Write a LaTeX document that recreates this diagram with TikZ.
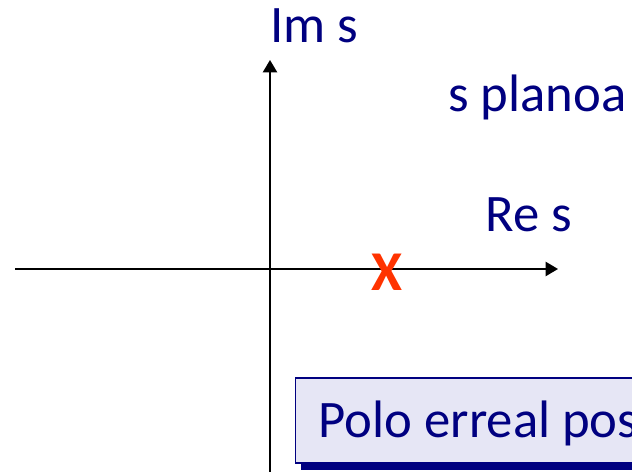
\documentclass[tikz,border=0pt]{standalone}
\usepackage{fontspec}
\setmainfont{Carlito}
\usetikzlibrary{arrows.meta,shadows}
\definecolor{navytext}{RGB}{0,0,128}
\definecolor{polered}{RGB}{255,51,0}
\definecolor{boxfill}{RGB}{230,230,245}

\begin{document}
\begin{tikzpicture}[x=0.02cm, y=-0.02cm,
    axis/.style={line width=1.2pt, -{Triangle[length=7pt,width=8pt]}},
    lbl/.style={navytext, anchor=base west, inner sep=0pt, font=\fontsize{30}{36}\selectfont},
    polebox/.style={lbl, draw=navytext, line width=0.8pt, fill=boxfill,
      inner xsep=0.46cm, inner ysep=0pt, text height=1.2cm, text depth=0.5cm,
      text width=9cm, align=flush left,
      drop shadow={shadow xshift=0.1cm, shadow yshift=-0.14cm, fill=navytext, opacity=1}}]
  \useasboundingbox (0,0) rectangle (632,472);
  \clip (0,0) rectangle (632,472);
  \coordinate (reL) at (15,269);
  \coordinate (reR) at (558,269);
  \coordinate (imB) at (270,480);
  \coordinate (imT) at (270,60);
  \draw[axis] (reL) -- (reR);
  \draw[axis] (imB) -- (imT);
  \node[lbl] (im) at (270,43) {Im s};
  \node[lbl] (re) at (485,232) {Re s};
  \node[lbl] (plane) at (448,112) {s planoa};
  \node[text=polered, inner sep=0pt, font=\fontsize{32}{38}\selectfont\bfseries] (pole) at (387,272) {X};
  \node[polebox] (note) at (295,438) {Polo erreal pos};
\end{tikzpicture}
\end{document}
